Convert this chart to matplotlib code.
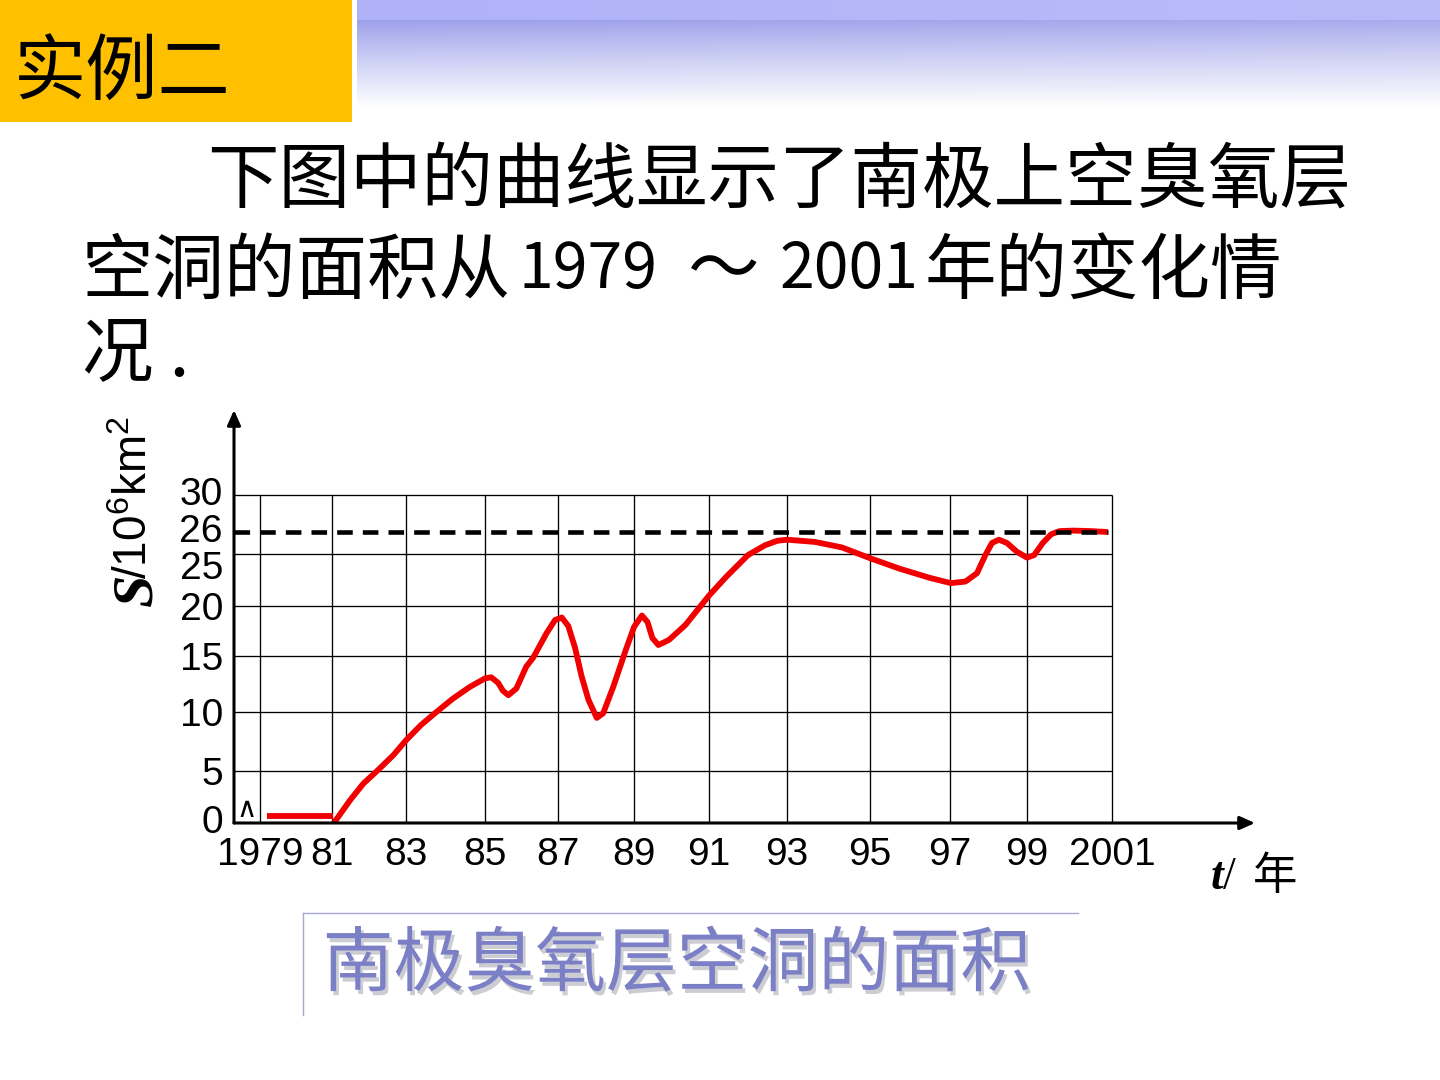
import numpy as np
import matplotlib
matplotlib.use('Agg')
import matplotlib.pyplot as plt
from matplotlib.lines import Line2D
from matplotlib.patches import Rectangle
from matplotlib import patheffects as pe
from matplotlib.transforms import ScaledTranslation

plt.rcParams['font.family'] = ['Noto Sans CJK SC', 'DejaVu Sans']
plt.rcParams['mathtext.fontset'] = 'custom'
plt.rcParams['mathtext.rm'] = 'Liberation Sans'
plt.rcParams['mathtext.bfit'] = 'Liberation Serif:italic:bold'

# values
grid_years = [1979, 1981, 1983, 1985, 1987, 1989, 1991, 1993, 1995, 1997, 1999, 2001]
year_labels = ['1979', '81', '83', '85', '87', '89', '91', '93', '95', '97', '99', '2001']
area_ticks = [0, 5, 10, 15, 20, 25, 26, 30]
area_labels = ['0', '5', '10', '15', '20', '25', '26', '30']
area_limit = 26

flat_years = [1979.19, 1981.03]
flat_area = [0.67, 0.67]

hole_years = [1981.05, 1981.49, 1981.85, 1982.25, 1982.66, 1983.0, 1983.38, 1983.77,
              1984.19, 1984.62, 1985.0, 1985.17, 1985.36, 1985.49, 1985.64, 1985.86,
              1986.13, 1986.32, 1986.69, 1986.92, 1987.1, 1987.27, 1987.45, 1987.62,
              1987.8, 1988.02, 1988.19, 1988.46, 1988.76, 1989.0, 1989.21, 1989.36,
              1989.49, 1989.65, 1989.93, 1990.37, 1991.0, 1991.44, 1992.0, 1992.44,
              1992.75, 1993.0, 1993.67, 1994.32, 1995.0, 1995.73, 1996.5, 1997.02,
              1997.4, 1997.7, 1997.92, 1998.09, 1998.27, 1998.48, 1998.74, 1999.0,
              1999.17, 1999.37, 1999.57, 1999.77, 2000.09, 2000.49, 2000.9]
hole_area = [0.0, 2.2, 3.8, 5.1, 6.35, 7.6, 8.9, 10.0,
             11.2, 12.25, 13.0, 13.1, 12.6, 11.9, 11.5, 12.1,
             14.05, 14.85, 17.3, 18.6, 18.85, 18.0, 15.8, 13.2,
             11.1, 9.5, 9.9, 12.3, 15.35, 17.9, 19.05, 18.4,
             16.8, 16.1, 16.6, 18.1, 21.0, 22.8, 24.9, 25.4,
             25.6, 25.65, 25.55, 25.3, 24.6, 23.6, 22.7, 22.2,
             22.35, 23.15, 24.9, 25.5, 25.65, 25.5, 25.1, 24.65,
             24.9, 25.5, 25.9, 26.1, 26.15, 26.1, 26.0]

W, H = 1440, 1080

# the hand drawn grid is not evenly spaced -> piecewise scales (pixels inside the axes)
x_grid_px = [26, 98, 172, 251, 324, 400, 475, 553, 636, 716, 793, 878]
y_grid_px = [0, 52, 111, 167, 217, 269, 291, 328]
xk = [1978.28] + grid_years + [2004.36]
xp = [0] + x_grid_px + [1021]
yk = area_ticks + [40]
yp = y_grid_px + [413]


def put(x, y, s, **kw):
    '''place text using slide pixel coordinates (y from top)'''
    return fig.text(x / W, 1 - y / H, s, **kw)


fig = plt.figure(figsize=(W / 100, H / 100), dpi=100)

# header: yellow tab + lavender gradient band
fig.add_artist(Rectangle((0, 1 - 122 / H), 352 / W, 122 / H, transform=fig.transFigure,
                         color='#FFC000', lw=0))
band = fig.add_axes([357 / W, 1 - 108 / H, (W - 357) / W, 108 / H])
rows = np.arange(108)[:, None, None]
cols = np.linspace(0, 1, 60)[None, :, None]
top = np.array([176, 178, 248]) / 255
base = np.array([156, 160, 234]) / 255
t = np.clip((rows - 20) / 87, 0, 1) ** 0.9
grad = np.where(rows < 20, top, base + (1 - base) * t)
grad = grad + (1 - grad) * 0.12 * cols
band.imshow(grad, aspect='auto', extent=(0, 1, 0, 1))
band.axis('off')

put(14, 95, '实例二', fontsize=52, va='baseline')

# question text
put(207, 203, '下图中的曲线显示了南极上空臭氧层', fontsize=51.5, va='baseline')
put(82, 293, '空洞的面积从', fontsize=51.5, va='baseline')
put(519, 288, '1979', fontsize=45, va='baseline')
put(724, 292, '～', fontsize=51.5, va='baseline', ha='center')
put(780, 288, '2001', fontsize=45, va='baseline')
put(925, 293, '年的变化情', fontsize=51.5, va='baseline')
put(82, 375, '况 .', fontsize=51.5, va='baseline')

# chart
ax = fig.add_axes([234 / W, 1 - 823 / H, 1021 / W, 413 / H])
ax.set_xscale('function', functions=(lambda v: np.interp(v, xk, xp),
                                     lambda p: np.interp(p, xp, xk)))
ax.set_yscale('function', functions=(lambda v: np.interp(v, yk, yp),
                                     lambda p: np.interp(p, yp, yk)))
ax.set_xlim(xk[0], xk[-1])
ax.set_ylim(yk[0], yk[-1])
for s in ax.spines.values():
    s.set_visible(False)
ax.patch.set_alpha(0)

ax.vlines(grid_years, 0, 30, color='black', lw=0.95, zorder=1)
ax.hlines([v for v in area_ticks if v not in (0, area_limit)], xk[0], 2001,
          color='black', lw=0.95, zorder=1)

ax.plot(flat_years, flat_area, color='#F00000', lw=4.2, solid_capstyle='butt', zorder=3)
ax.plot(hole_years, hole_area, color='#F00000', lw=4.2, solid_joinstyle='round',
        solid_capstyle='butt', zorder=3)
ax.hlines(area_limit, xk[0], hole_years[-1], color='black', lw=3.3,
          linestyles=(0, (3.4, 2.2)), zorder=4)

arrow = dict(arrowstyle='-|>,head_length=0.45,head_width=0.2', lw=2.2, color='black',
             shrinkA=0, shrinkB=0, mutation_scale=20)
ax.annotate('', xy=(1, 0), xytext=(0, 0), xycoords='axes fraction', arrowprops=arrow)
ax.annotate('', xy=(0, 1), xytext=(0, 0), xycoords='axes fraction', arrowprops=arrow)
ax.text(1978.62, 0.0, '∧', fontsize=20, family='DejaVu Sans', ha='center', va='bottom')

ax.set_xticks(grid_years, year_labels)
ax.set_yticks(area_ticks, area_labels)
ax.tick_params(length=0, labelsize=28)
ax.tick_params(axis='x', pad=10)
ax.tick_params(axis='y', pad=8)
for lab in ax.get_xticklabels() + ax.get_yticklabels():
    lab.set_fontfamily('Liberation Sans')
# squeeze of the 25 / 26 / 30 labels as on the slide
nudge = {'25': -11, '26': 4, '30': 4, '0': 4}
for tick in ax.yaxis.get_major_ticks():
    dy = nudge.get(tick.label1.get_text(), 0)
    if dy:
        tick.label1.set_transform(tick.label1.get_transform()
                                  + ScaledTranslation(0, dy / 100, fig.dpi_scale_trans))

# axis titles
put(136, 592, r'$\mathbfit{S}$', rotation=90, ha='center', va='center', fontsize=42)
put(135, 497, '/10$^{6}$km$^{2}$', rotation=90, ha='center', va='center', fontsize=33,
    family='Liberation Sans')
put(1210, 889, r'$\mathbfit{t}$/', fontsize=33, va='baseline', family='Liberation Serif')
put(1253, 889, '年', fontsize=32, va='baseline')

# caption box
fig.add_artist(Line2D([303 / W, 1078 / W], [1 - 913 / H] * 2, color='#A8A8D8', lw=1))
fig.add_artist(Line2D([303 / W] * 2, [1 - 913 / H, 1 - 1015 / H], color='#A8A8D8', lw=1))
put(677, 965, '南极臭氧层空洞的面积', fontsize=51, ha='center', va='center', color='#7B7FC6',
    path_effects=[pe.withSimplePatchShadow(offset=(2, -3), shadow_rgbFace='#9A9AA8', alpha=0.5)])

fig.savefig('out.png', dpi=100)
